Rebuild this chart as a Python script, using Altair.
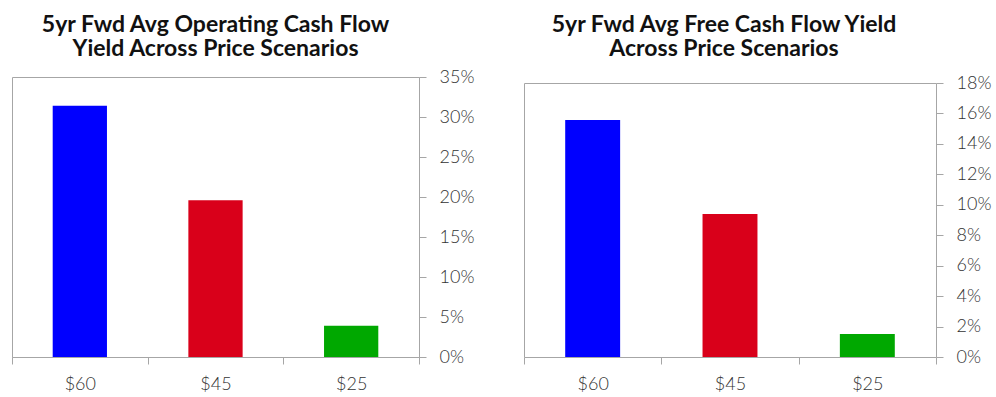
import altair as alt
import pandas as pd

# Oil price scenarios and the 5-year forward average yields under each
scenarios = ["$60", "$45", "$25"]
ocf_yield = [0.314, 0.196, 0.039]
fcf_yield = [0.1557, 0.0939, 0.0151]
bar_colors = ["#0000FF", "#D9001A", "#00A800"]

FONT = "Lato"
AXIS_GRAY = "#A6A6A6"
TEXT = "#333333"
PANEL_H = 280


def panel_title(lines, offset, dx=0):
    return alt.TitleParams(
        text=lines,
        anchor="middle",
        frame="group",
        font=FONT,
        fontSize=23,
        fontWeight="bold",
        color="#111111",
        lineHeight=24,
        offset=offset,
        dx=dx,
    )


def x_enc():
    return alt.X(
        "scenario:N",
        sort=scenarios,
        scale=alt.Scale(paddingInner=0, paddingOuter=0),
        axis=alt.Axis(
            title=None,
            labelAngle=0,
            tickBand="extent",
            domainColor=AXIS_GRAY,
            tickColor=AXIS_GRAY,
            tickSize=7,
            labelPadding=11,
        ),
    )


def y_scale(y_max, top):
    return alt.Scale(domain=[0, y_max], nice=False, range=[PANEL_H, top])


def y_ticks(y_max, y_step):
    return [round(i * y_step, 4) for i in range(int(round(y_max / y_step)) + 1)]


def bars(values, y_max, y_step, top):
    df = pd.DataFrame({"scenario": scenarios, "value": values, "color": bar_colors})
    return (
        alt.Chart(df)
        .mark_bar(width=alt.RelativeBandSize(0.4))
        .encode(
            x=x_enc(),
            y=alt.Y(
                "value:Q",
                scale=y_scale(y_max, top),
                axis=alt.Axis(
                    title=None,
                    orient="right",
                    format=".0%",
                    values=y_ticks(y_max, y_step),
                    grid=False,
                    domainColor=AXIS_GRAY,
                    tickColor=AXIS_GRAY,
                    tickSize=7,
                    labelPadding=13,
                ),
            ),
            color=alt.Color("color:N", scale=None, legend=None),
        )
    )


# Operating cash flow yield: plot frame is the view outline
left = bars(ocf_yield, 0.35, 0.05, 0).properties(
    width=407,
    height=PANEL_H,
    title=panel_title(["5yr Fwd Avg Operating Cash Flow", "Yield Across Price Scenarios"], 7),
)

# Free cash flow yield: a slightly shorter value axis, framed by axis lines
FCF_TOP = 6
fcf_bars = bars(fcf_yield, 0.18, 0.02, FCF_TOP)
fcf_frame = (
    alt.Chart(pd.DataFrame({"scenario": scenarios, "value": fcf_yield}))
    .mark_bar(width=alt.RelativeBandSize(0.4), opacity=0)
    .encode(
        x=x_enc(),
        y=alt.Y(
            "value:Q",
            scale=y_scale(0.18, FCF_TOP),
            axis=alt.Axis(
                title=None,
                orient="left",
                values=[0.18],
                grid=True,
                gridColor=AXIS_GRAY,
                gridOpacity=1,
                labels=False,
                ticks=False,
                domainColor=AXIS_GRAY,
            ),
        ),
    )
)
right = (
    alt.layer(fcf_frame, fcf_bars)
    .resolve_axis(y="independent")
    .properties(
        width=412,
        height=PANEL_H,
        view=alt.ViewBackground(stroke=None),
        title=panel_title(
            ["5yr Fwd Avg Free Cash Flow Yield", "Across Price Scenarios"], 7 + FCF_TOP, dx=-6
        ),
    )
)

chart = (
    alt.hconcat(left, right, spacing=48)
    .properties(
        padding={"left": 11, "top": 13, "right": 2, "bottom": 2},
        background="white",
    )
    .configure_view(stroke=AXIS_GRAY, strokeWidth=1)
    .configure_axis(
        labelFont=FONT,
        labelFontSize=18,
        labelFontWeight=300,
        labelColor=TEXT,
        domainWidth=1,
        tickWidth=1,
    )
)

chart.save("out.html", embed_options={"renderer": "svg", "actions": False})
